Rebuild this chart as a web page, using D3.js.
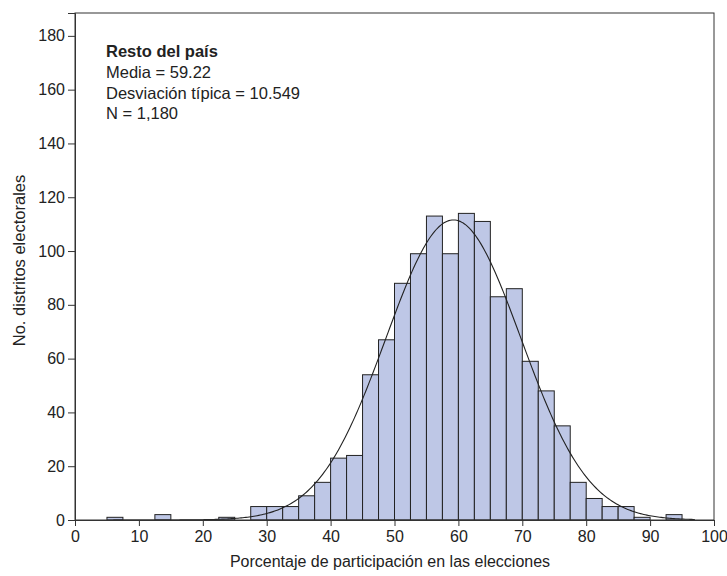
<!DOCTYPE html>
<html>
<head>
<meta charset="utf-8">
<script src="https://cdn.jsdelivr.net/npm/d3@7"></script>
<style>
  body { margin: 0; background: #fff; }
  text { font-family: "Liberation Sans", Arial, sans-serif; fill: #222; }
</style>
</head>
<body>
<div id="chart"></div>
<script>
// Histogram data: bins of 2.5 points, start values and counts
const binStarts = [5, 7.5, 10, 12.5, 15, 17.5, 20, 22.5, 25, 27.5, 30, 32.5, 35, 37.5, 40, 42.5,
                   45, 47.5, 50, 52.5, 55, 57.5, 60, 62.5, 65, 67.5, 70, 72.5, 75, 77.5, 80, 82.5,
                   85, 87.5, 90, 92.5];
const counts = [1, 0, 0, 2, 0, 0, 0, 1, 0, 5, 5, 5, 9, 14, 23, 24,
                54, 67, 88, 99, 113, 99, 114, 111, 83, 86, 59, 48, 35, 14, 8, 5,
                5, 1, 0, 2];
const binWidth = 2.5;
const xTicks = [0, 10, 20, 30, 40, 50, 60, 70, 80, 90, 100];
const yTicks = [0, 20, 40, 60, 80, 100, 120, 140, 160, 180];

// Stats printed on the chart (normal curve is drawn from these)
const mean = 59.22;
const sd = 10.549;
const n = 1180;
const curveRange = [6, 97];
const infoLines = ["Media = 59.22", "Desviación típica = 10.549", "N = 1,180"];

const svgWidth = 727, svgHeight = 576;
const plotLeft = 75, plotRight = 714, plotTop = 13, plotBottom = 520;

const svg = d3.select('#chart').append('svg')
    .attr('width', svgWidth)
    .attr('height', svgHeight);

const x = d3.scaleLinear().domain([0, 100]).range([plotLeft, plotRight]);
const y = d3.scaleLinear().domain([0, 188.5]).range([plotBottom, plotTop]);

// Bars
svg.append('g')
    .selectAll('rect')
    .data(binStarts.map((s, i) => ({ start: s, count: counts[i] })).filter(d => d.count > 0))
    .join('rect')
    .attr('x', d => x(d.start))
    .attr('width', d => x(d.start + binWidth) - x(d.start))
    .attr('y', d => y(d.count))
    .attr('height', d => y(0) - y(d.count))
    .attr('fill', '#bec7e6')
    .attr('stroke', '#222')
    .attr('stroke-width', 1);

// Normal curve
const pdf = v => Math.exp(-0.5 * Math.pow((v - mean) / sd, 2)) / (sd * Math.sqrt(2 * Math.PI));
const curvePts = d3.range(curveRange[0], curveRange[1] + 0.01, 0.25).map(v => [v, n * binWidth * pdf(v)]);
svg.append('path')
    .datum(curvePts)
    .attr('fill', 'none')
    .attr('stroke', '#222')
    .attr('stroke-width', 1.1)
    .attr('d', d3.line().x(d => x(d[0])).y(d => y(d[1])));

// Frame
svg.append('rect')
    .attr('x', plotLeft).attr('y', plotTop)
    .attr('width', plotRight - plotLeft).attr('height', plotBottom - plotTop)
    .attr('fill', 'none')
    .attr('stroke', '#333')
    .attr('stroke-width', 1);

// Axes
const xAxis = svg.append('g')
    .attr('transform', `translate(0,${plotBottom})`)
    .call(d3.axisBottom(x).tickValues(xTicks).tickSize(6).tickPadding(5));
const yAxis = svg.append('g')
    .attr('transform', `translate(${plotLeft},0)`)
    .call(d3.axisLeft(y).tickValues(yTicks).tickSize(7).tickPadding(3));
[xAxis, yAxis].forEach(a => {
    a.select('.domain').attr('stroke', '#333');
    a.selectAll('.tick line').attr('stroke', '#333');
    a.selectAll('.tick text')
        .style('font-family', '"Liberation Sans", Arial, sans-serif')
        .style('font-size', '16px')
        .attr('fill', '#222');
});

// Axis titles
svg.append('text')
    .attr('x', 390)
    .attr('y', 567)
    .style('text-anchor', 'middle')
    .style('font-size', '16px')
    .text('Porcentaje de participación en las elecciones');

svg.append('text')
    .attr('transform', 'rotate(-90)')
    .attr('x', -260.5)
    .attr('y', 25)
    .style('text-anchor', 'middle')
    .style('font-size', '16.5px')
    .text('No. distritos electorales');

// Info box
svg.append('text')
    .attr('x', 106).attr('y', 57)
    .style('font-size', '16.5px')
    .style('font-weight', 'bold')
    .text('Resto del país');
svg.append('g')
    .selectAll('text')
    .data(infoLines)
    .join('text')
    .attr('x', 106)
    .attr('y', (d, i) => 78 + i * 20.7)
    .style('font-size', '16.5px')
    .text(d => d);
</script>
</body>
</html>
